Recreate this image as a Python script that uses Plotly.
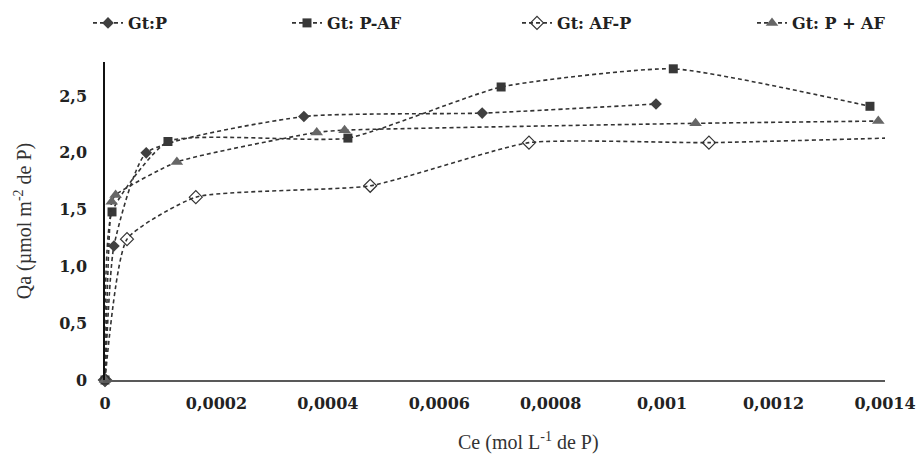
import plotly.graph_objects as go

# ---- data ----
names = ["Gt:P", "Gt: P-AF", "Gt: AF-P", "Gt: P + AF"]

ce_gtp = [0, 0.000016, 0.000074, 0.000357, 0.000677, 0.000989]
qa_gtp = [0, 1.18, 2.00, 2.32, 2.35, 2.43]

ce_paf = [0, 0.0000126, 0.000113, 0.000436, 0.000711, 0.00102, 0.001373]
qa_paf = [0, 1.48, 2.10, 2.13, 2.58, 2.74, 2.41]

ce_afp = [0, 0.0000395, 0.000163, 0.000476, 0.000761, 0.001084, 0.001404]
qa_afp = [0, 1.24, 1.61, 1.71, 2.09, 2.09, 2.13]

ce_ppaf = [0, 0.000012, 0.000019, 0.000129, 0.00038, 0.00043, 0.00106, 0.001388]
qa_ppaf = [0, 1.57, 1.63, 1.92, 2.18, 2.20, 2.26, 2.28]

x_tickvals = [0, 0.0002, 0.0004, 0.0006, 0.0008, 0.001, 0.0012, 0.0014]
x_ticktext = ["0", "0,0002", "0,0004", "0,0006", "0,0008", "0,001", "0,0012", "0,0014"]
y_tickvals = [0, 0.5, 1.0, 1.5, 2.0, 2.5]
y_ticktext = ["0", "0,5", "1,0", "1,5", "2,0", "2,5"]

# ---- styling ----
LINE_COL = "#333333"
BOLD_FONT = "DejaVu Serif"
TITLE_FONT = "Liberation Serif"

series = [
    (ce_gtp, qa_gtp, names[0], dict(symbol="diamond", size=9, color="#404040",
                                    line=dict(width=0)), 154),
    (ce_paf, qa_paf, names[1], dict(symbol="square", size=9, color="#383838",
                                    line=dict(width=0)), 185),
    (ce_afp, qa_afp, names[2], dict(symbol="diamond-open", size=10, color="#333333",
                                    line=dict(width=1.2)), 190),
    (ce_ppaf, qa_ppaf, names[3], dict(symbol="triangle-up", size=11, color="#666666",
                                      line=dict(width=0)), 0),
]

fig = go.Figure()
for xs, ys, nm, mk, lw in series:
    kw = dict(legendwidth=lw) if lw else {}
    fig.add_trace(go.Scatter(
        x=xs, y=ys, name=nm, mode="lines+markers",
        line=dict(color=LINE_COL, width=1.6, dash="4px,3px", shape="spline", smoothing=0.5),
        marker=mk, cliponaxis=False, **kw,
    ))

fig.update_layout(
    width=919, height=455,
    margin=dict(l=105, r=34, t=62, b=75, autoexpand=False),
    plot_bgcolor="white", paper_bgcolor="white",
    showlegend=True,
    legend=dict(
        orientation="h", xref="paper", yref="paper",
        x=(88 - 105) / 780, xanchor="left", y=1 + (62 - 23) / 318, yanchor="middle",
        font=dict(family=BOLD_FONT, size=16, color="#222222", weight="bold"),
        bgcolor="rgba(0,0,0,0)", borderwidth=0, traceorder="normal",
    ),
    xaxis=dict(
        range=[0, 0.0014], tickvals=x_tickvals, ticktext=x_ticktext,
        showgrid=False, zeroline=False, showline=True, linecolor="#595959", linewidth=2,
        ticks="", ticklabelstandoff=8, automargin=False,
        tickfont=dict(family=BOLD_FONT, size=16, color="#222222", weight="bold"),
    ),
    yaxis=dict(
        range=[0, 2.8], tickvals=y_tickvals, ticktext=y_ticktext,
        showgrid=False, zeroline=False, showline=True, linecolor="#111111", linewidth=1.5,
        ticks="", ticklabelstandoff=13, automargin=False,
        tickfont=dict(family=BOLD_FONT, size=16, color="#222222", weight="bold"),
        title=dict(text="Qa (µmol m<sup>-2</sup> de P)", standoff=22,
                   font=dict(family=TITLE_FONT, size=20, color="#333333")),
    ),
    annotations=[dict(
        text="Ce (mol L<sup>-1</sup> de P)", xref="paper", yref="paper",
        x=(528 - 105) / 780, y=-(441 - 380) / 318, xanchor="center", yanchor="middle",
        showarrow=False, font=dict(family=TITLE_FONT, size=20, color="#333333"),
    )],
)

fig.write_html("out.html", config={"displayModeBar": False},
               post_script="document.body.style.margin='0';")
